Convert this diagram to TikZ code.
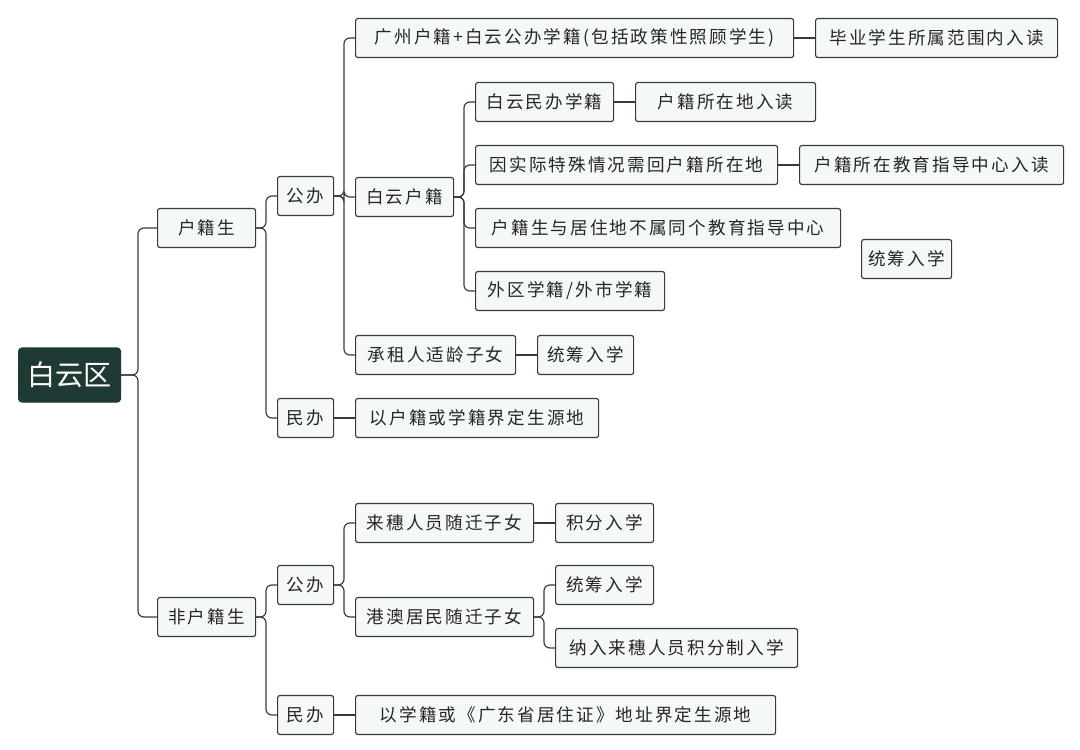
\documentclass[tikz,border=0pt]{standalone}
\usepackage{fontspec}
\setmainfont{Noto Sans CJK SC}[LetterSpace=12]
\newfontfamily\rootfont{Noto Sans CJK SC}
\usepackage{tikz}

\definecolor{rootfill}{HTML}{1F3A35}
\definecolor{boxfill}{HTML}{F5F8F9}
\definecolor{edge}{HTML}{3A3A3A}

% box with left x, right x, centre y
\newcommand{\bx}[5]{\node[item, minimum width={(#3-#2)*0.03cm}, anchor=west] (#1) at (#2,#4) {#5};}

\begin{document}
\begin{tikzpicture}[x=0.03cm, y=-0.03cm, line width=1pt,
  item/.style={draw=edge, fill=boxfill, rounded corners=2pt, minimum height=1.17cm,
               inner sep=0pt, font=\fontsize{15}{15}\selectfont, text=black!85},
  link/.style={draw=edge, rounded corners=5pt}]

\useasboundingbox (0,0) rectangle (1080,750);

% trunks
\coordinate (t0) at (138,0);
\coordinate (t1) at (266,0);
\coordinate (t2) at (344,0);
\coordinate (t3) at (464,0);
\coordinate (t4) at (544,0);

% root
\node[draw=rootfill, fill=rootfill, rounded corners=3pt, minimum width=3.06cm, minimum height=1.62cm,
      font=\rootfont\fontsize{24}{24}\selectfont, text=white, anchor=west] (root) at (18,375) {白云区};

% first level
\bx{hj}{157}{255}{228}{户籍生}
\bx{fhj}{157}{255}{617}{非户籍生}

% second level
\bx{gb1}{277}{333}{196}{公办}
\bx{mb1}{277}{333}{418}{民办}
\bx{gb2}{277}{333}{585}{公办}
\bx{mb2}{277}{333}{715}{民办}

% third level
\bx{gz}{355}{793}{38}{广州户籍+白云公办学籍(包括政策性照顾学生)}
\bx{by}{355}{453}{197}{白云户籍}
\bx{czr}{355}{515}{355}{承租人适龄子女}
\bx{jd1}{355}{598}{418}{以户籍或学籍界定生源地}
\bx{ls}{355}{533}{523}{来穗人员随迁子女}
\bx{ga}{355}{533}{617}{港澳居民随迁子女}
\bx{jd2}{355}{775}{715}{以学籍或《广东省居住证》地址界定生源地}

% fourth level
\bx{myr}{815}{1057}{38}{毕业学生所属范围内入读}
\bx{mbxj}{475}{613}{102}{白云民办学籍}
\bx{tsqk}{475}{777}{165}{因实际特殊情况需回户籍所在地}
\bx{bts}{475}{840}{228}{户籍生与居住地不属同个教育指导中心}
\bx{wq}{475}{664}{291}{外区学籍/外市学籍}
\bx{tc1}{537}{633}{355}{统筹入学}
\bx{jf}{555}{653}{523}{积分入学}
\bx{tc2}{555}{653}{585}{统筹入学}
\bx{nr}{555}{797}{648}{纳入来穗人员积分制入学}

% leaves
\bx{szd}{635}{815}{102}{户籍所在地入读}
\bx{zdzx}{799}{1063}{165}{户籍所在教育指导中心入读}
\bx{tc3}{861}{951}{259}{统筹入学}

% connectors
\foreach \c in {hj,fhj} \draw[link] (root.east) -- (root.east -| t0) |- (\c.west);
\foreach \c in {gb1,mb1} \draw[link] (hj.east) -- (hj.east -| t1) |- (\c.west);
\foreach \c in {gb2,mb2} \draw[link] (fhj.east) -- (fhj.east -| t1) |- (\c.west);
\foreach \c in {gz,by,czr} \draw[link] (gb1.east) -- (gb1.east -| t2) |- (\c.west);
\foreach \c in {ls,ga} \draw[link] (gb2.east) -- (gb2.east -| t2) |- (\c.west);
\foreach \c in {mbxj,tsqk,bts,wq} \draw[link] (by.east) -- (by.east -| t3) |- (\c.west);
\foreach \c in {tc2,nr} \draw[link] (ga.east) -- (ga.east -| t4) |- (\c.west);
\draw[link] (mb1) -- (jd1);
\draw[link] (mb2) -- (jd2);
\draw[link] (gz) -- (myr);
\draw[link] (czr) -- (tc1);
\draw[link] (ls) -- (jf);
\draw[link] (mbxj) -- (szd);
\draw[link] (tsqk) -- (zdzx);

\end{tikzpicture}
\end{document}
